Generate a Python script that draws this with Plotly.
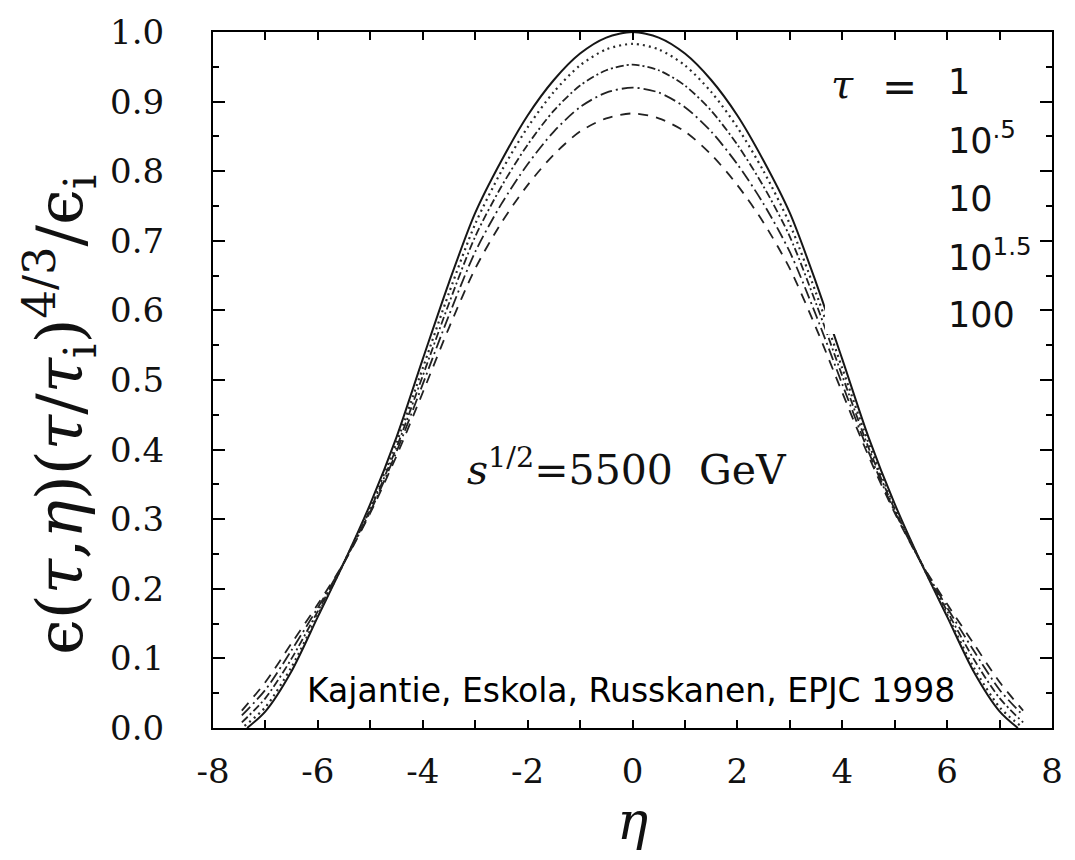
import plotly.graph_objects as go

# ---- data ----
eta_solid = [-7.35, -7.0, -6.5, -6.0, -5.5, -5.0, -4.5, -4.0, -3.5, -3.0, -2.5, -2.0, -1.5, -1.0, -0.5,
             0.0, 0.5, 1.0, 1.5, 2.0, 2.5, 3.0, 3.5, 4.0, 4.5, 5.0, 5.5, 6.0, 6.5, 7.0, 7.35]
v_tau_1 = [0.0, 0.024, 0.082, 0.160, 0.238, 0.322, 0.418, 0.530, 0.640, 0.740, 0.815, 0.880, 0.931, 0.969, 0.992,
           1.000, 0.992, 0.969, 0.931, 0.880, 0.815, 0.740, 0.640, 0.530, 0.418, 0.322, 0.238, 0.160, 0.082, 0.024, 0.0]

eta_dot = [-7.4, -7.0, -6.5, -6.0, -5.5, -5.0, -4.5, -4.0, -3.5, -3.0, -2.5, -2.0, -1.5, -1.0, -0.5,
           0.0, 0.5, 1.0, 1.5, 2.0, 2.5, 3.0, 3.5, 4.0, 4.5, 5.0, 5.5, 6.0, 6.5, 7.0, 7.4]
v_tau_10_05 = [0.003, 0.030, 0.088, 0.163, 0.238, 0.318, 0.410, 0.517, 0.625, 0.724, 0.800, 0.863, 0.914, 0.952, 0.975,
               0.983, 0.975, 0.952, 0.914, 0.863, 0.800, 0.724, 0.625, 0.517, 0.410, 0.318, 0.238, 0.163, 0.088, 0.030, 0.003]

eta_wide = [-7.45, -7.0, -6.5, -6.0, -5.5, -5.0, -4.5, -4.0, -3.5, -3.0, -2.5, -2.0, -1.5, -1.0, -0.5,
            0.0, 0.5, 1.0, 1.5, 2.0, 2.5, 3.0, 3.5, 4.0, 4.5, 5.0, 5.5, 6.0, 6.5, 7.0, 7.45]
v_tau_10 = [0.008, 0.043, 0.100, 0.168, 0.238, 0.314, 0.403, 0.506, 0.610, 0.706, 0.778, 0.838, 0.887, 0.923, 0.945,
            0.953, 0.945, 0.923, 0.887, 0.838, 0.778, 0.706, 0.610, 0.506, 0.403, 0.314, 0.238, 0.168, 0.100, 0.043, 0.008]
v_tau_10_15 = [0.018, 0.055, 0.112, 0.173, 0.238, 0.311, 0.397, 0.494, 0.593, 0.684, 0.753, 0.810, 0.857, 0.892, 0.913,
               0.920, 0.913, 0.892, 0.857, 0.810, 0.753, 0.684, 0.593, 0.494, 0.397, 0.311, 0.238, 0.173, 0.112, 0.055, 0.018]
v_tau_100 = [0.025, 0.066, 0.122, 0.178, 0.238, 0.309, 0.391, 0.482, 0.575, 0.660, 0.726, 0.780, 0.824, 0.857, 0.876,
             0.883, 0.876, 0.857, 0.824, 0.780, 0.726, 0.660, 0.575, 0.482, 0.391, 0.309, 0.238, 0.178, 0.122, 0.066, 0.025]

x_tick_vals = [-8, -6, -4, -2, 0, 2, 4, 6, 8]
x_tick_text = ["-8", "-6", "-4", "-2", "0", "2", "4", "6", "8"]
y_tick_vals = [0.0, 0.1, 0.2, 0.3, 0.4, 0.5, 0.6, 0.7, 0.8, 0.9, 1.0]
y_tick_text = ["0.0", "0.1", "0.2", "0.3", "0.4", "0.5", "0.6", "0.7", "0.8", "0.9", "1.0"]

# ---- figure ----
fig = go.Figure()
series = [
    (eta_solid, v_tau_1, "solid", 2.0, "#161616"),
    (eta_dot, v_tau_10_05, "2px,4px", 2.2, "#2a2a2a"),
    (eta_wide, v_tau_10, "8px,3px,2px,3px", 1.8, "#222222"),
    (eta_wide, v_tau_10_15, "12px,4px,2px,4px", 1.8, "#222222"),
    (eta_wide, v_tau_100, "10px,8px", 1.8, "#222222"),
]
for xs, ys, dash, w, c in series:
    fig.add_trace(go.Scatter(x=xs, y=ys, mode="lines",
                             line=dict(color=c, width=w, dash=dash, shape="spline", smoothing=0.8),
                             hoverinfo="skip"))

serif = "DejaVu Serif"
sans = "DejaVu Sans"

fig.update_layout(
    width=1075, height=860,
    margin=dict(l=213, r=12, t=25, b=132),
    paper_bgcolor="white", plot_bgcolor="white",
    showlegend=False,
    xaxis=dict(range=[-8, 8], tickmode="array", tickvals=x_tick_vals, ticktext=x_tick_text,
               ticks="inside", ticklen=8, tickwidth=1.5, tickcolor="black",
               minor=dict(tickmode="array", tickvals=list(range(-8, 9)), ticks="inside",
                          ticklen=8, tickwidth=1.5, tickcolor="black"),
               showline=True, linewidth=2, linecolor="black", mirror="ticks",
               showgrid=False, zeroline=False,
               tickfont=dict(family=serif, size=34, color="#111"),
               ticklabelstandoff=12,
               title=dict(text="<i>η</i>", font=dict(family=serif, size=52, color="#111"), standoff=2)),
    yaxis=dict(range=[0, 1.0], tickmode="array", tickvals=y_tick_vals, ticktext=y_tick_text,
               ticks="inside", ticklen=12, tickwidth=1.5, tickcolor="black",
               minor=dict(tickmode="array", tickvals=[0.05, 0.15, 0.25, 0.35, 0.45, 0.55, 0.65, 0.75, 0.85, 0.95],
                          ticks="inside", ticklen=6, tickwidth=1.5, tickcolor="black"),
               showline=True, linewidth=2, linecolor="black", mirror="ticks",
               showgrid=False, zeroline=False,
               tickfont=dict(family=serif, size=34, color="#111"),
               ticklabelstandoff=40),
)

# y-axis title as a rotated annotation (allows exact placement)
fig.add_annotation(x=-0.182, y=0.45, xref="paper", yref="paper", textangle=-90,
                   text="ϵ(<i>τ</i>,<i>η</i>)(<i>τ</i>/<i>τ</i><sub>i</sub>)<sup>4/3</sup>/ϵ<sub>i</sub>",
                   showarrow=False, xanchor="center", yanchor="middle",
                   font=dict(family=serif, size=64, color="#111"))

# white box behind the tau labels (hides the curves, as in the reference)
fig.add_shape(type="rect", xref="x", yref="y", x0=3.67, x1=7.76, y0=0.566, y1=0.940,
              fillcolor="white", line=dict(width=0), layer="above")

ann_font = dict(family=sans, size=35, color="#111")
fig.add_annotation(x=4.0, y=0.925, xref="x", yref="y", text="<i>τ</i>", showarrow=False,
                   font=dict(family=serif, size=40, color="#111"))
fig.add_annotation(x=5.1, y=0.922, xref="x", yref="y", text="=", showarrow=False,
                   font=dict(family=sans, size=42, color="#111"))
label_rows = [("1", 0.928), ("10<sup>.5</sup>", 0.848), ("10", 0.760), ("10<sup>1.5</sup>", 0.680), ("100", 0.594)]
for txt, yv in label_rows:
    fig.add_annotation(x=5.98, y=yv, xref="x", yref="y", text=txt, showarrow=False,
                       xanchor="left", yanchor="middle", font=ann_font)

fig.add_annotation(x=-0.1, y=0.375, xref="x", yref="y",
                   text="<i>s</i><sup>1/2</sup>=5500\u00a0\u00a0GeV", showarrow=False,
                   font=dict(family=serif, size=41, color="#111"))
fig.add_annotation(x=-0.03, y=0.054, xref="x", yref="y",
                   text="Kajantie, Eskola, Russkanen, EPJC 1998", showarrow=False,
                   font=dict(family=sans, size=33, color="#000"))

fig.write_html("out.html")
